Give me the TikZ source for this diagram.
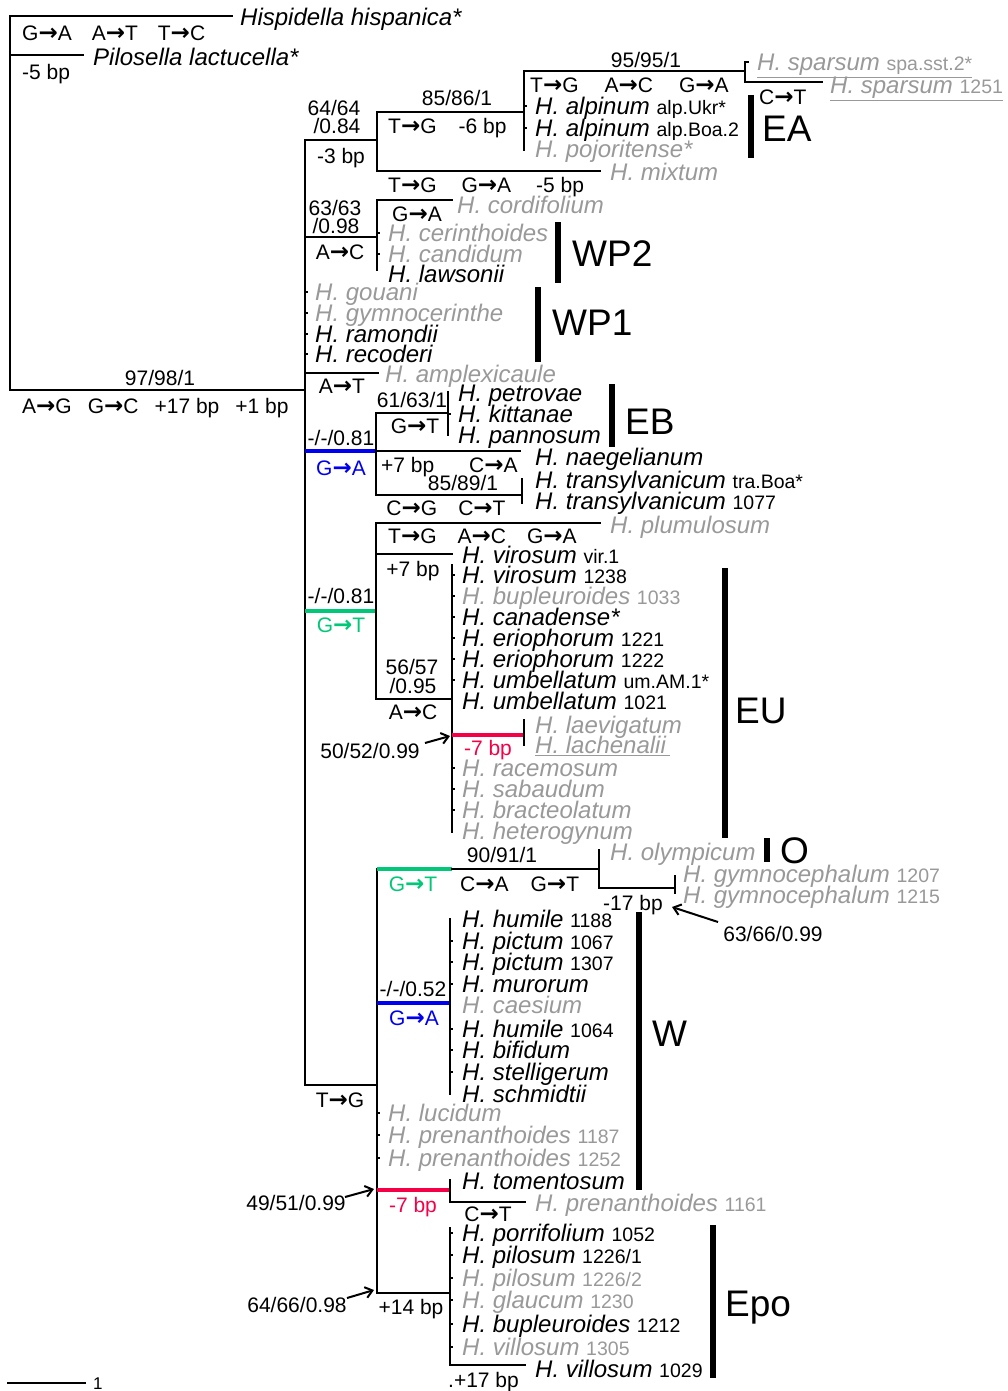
\documentclass[tikz,border=0pt]{standalone}
\usepackage{fontspec}
\setmainfont{Liberation Sans}
\newfontfamily\arfont{DejaVu Sans}
\usetikzlibrary{arrows.meta}
\definecolor{gry}{RGB}{153,153,153}
\definecolor{bl}{RGB}{0,0,240}
\definecolor{gn}{RGB}{0,200,120}
\definecolor{rd}{RGB}{245,0,70}
\newcommand{\sx}[1]{{\upshape\fontsize{19.5}{20}\selectfont #1}}
\newcommand{\ar}{{\arfont\bfseries\fontsize{23}{21}\selectfont →}}
\begin{document}
\begin{tikzpicture}[x=1pt,y=-1pt,
  br/.style={line width=2.4pt,line cap=rect},
  cbr/.style={line width=4pt},
  tick/.style={line width=1.5pt},
  bar/.style={line width=5.5pt},
  sarr/.style={line width=2pt,-{Straight Barb[length=7pt,width=11pt,line width=2pt]}},
  tx/.style={anchor=west,inner sep=0pt,text height=17.2pt,text depth=0pt,font=\fontsize{24}{24}\selectfont\itshape},
  mut/.style={inner sep=0pt,text height=15pt,text depth=0pt,font=\fontsize{21}{21}\selectfont},
  grp/.style={anchor=west,inner sep=0pt,text height=26.5pt,text depth=0pt,font=\fontsize{37}{37}\selectfont}]
\useasboundingbox (0,0) rectangle (1008,1391);
% root
\draw[br] (10,16) -- (10,390);
\draw[br] (10,16) -- (232,16);
\node[tx] (hisp) at (240,17) {Hispidella hispanica*};
\node[mut,anchor=west] (m0) at (22,33) {G\ar A\hspace{20pt}A\ar T\hspace{20pt}T\ar C};
\draw[br] (10,55) -- (83,55);
\node[tx] (pilo) at (93,57) {Pilosella lactucella*};
\node[mut,anchor=west] (m1) at (22,72) {-5 bp};
\draw[br] (10,390) -- (305,390);
\node[mut] (s0) at (160,378) {97/98/1};
\node[mut,anchor=west] (m2) at (22,406) {A\ar G\hspace{16pt}G\ar C\hspace{16pt}+17 bp\hspace{16pt}+1 bp};
\draw[br] (305,140) -- (305,1085);
% clade A
\draw[br] (305,140) -- (377,140);
\node[mut] (s1a) at (334,108) {64/64};
\node[mut] (s1b) at (337,126) {/0.84};
\node[mut] (m3) at (341,156) {-3 bp};
\draw[br] (377,112) -- (377,171);
\draw[br] (377,112) -- (524,112);
\node[mut] (s2) at (457,98) {85/86/1};
\node[mut,anchor=west] (m4) at (388,126) {T\ar G\hspace{22pt}-6 bp};
\draw[br] (524,71) -- (524,150);
\foreach \y in {106,128} \draw[tick] (524,\y) -- ++(3,0);
\draw[br] (524,71) -- (745,71);
\node[mut] (s3) at (646,60) {95/95/1};
\node[mut,anchor=west] (m5) at (530,85) {T\ar G\hspace{26pt}A\ar C\hspace{26pt}G\ar A};
\draw[br] (745,62) -- (745,82);
\draw[br] (745,62) -- (748,62);
\node[tx,gry] (t1) at (757,62) {\underline{H. sparsum \sx{spa.sst.2*}}};
\draw[br] (745,82) -- (822,82);
\node[tx,gry] (t2) at (830,85) {\underline{H. sparsum \sx{1251}}};
\node[mut,anchor=west] (m6) at (759,97) {C\ar T};
\node[tx] (t3) at (535,106) {H. alpinum \sx{alp.Ukr*}};
\node[tx] (t4) at (535,128) {H. alpinum \sx{alp.Boa.2}};
\node[tx,gry] (t5) at (535,149) {H. pojoritense*};
\draw[bar] (751,95) -- (751,158);
\node[grp] (gEA) at (762,128) {EA};
\draw[br] (377,171) -- (600,171);
\node[tx,gry] (t6) at (610,172) {H. mixtum};
\node[mut,anchor=west] (m7) at (388,185) {T\ar G\hspace{25pt}G\ar A\hspace{25pt}-5 bp};
% clade B
\draw[br] (305,237) -- (377,237);
\node[mut] (s4a) at (335,208) {63/63};
\node[mut] (s4b) at (336,226) {/0.98};
\node[mut] (m8) at (340,252) {A\ar C};
\draw[br] (377,200) -- (377,270);
\foreach \y in {233,254} \draw[tick] (377,\y) -- ++(3,0);
\draw[br] (377,200) -- (452,200);
\node[tx,gry] (t7) at (457,205) {H. cordifolium};
\node[mut,anchor=west] (m9) at (392,214) {G\ar A};
\node[tx,gry] (t8) at (388,233) {H. cerinthoides};
\node[tx,gry] (t9) at (388,254) {H. candidum};
\node[tx] (t10) at (388,274) {H. lawsonii};
\draw[bar] (558,222) -- (558,283);
\node[grp] (gWP2) at (572,253) {WP2};
% WP1
\foreach \y in {292,313,334,354} \draw[tick] (305,\y) -- ++(3,0);
\node[tx,gry] (t11) at (315,292) {H. gouani};
\node[tx,gry] (t12) at (315,313) {H. gymnocerinthe};
\node[tx] (t13) at (315,334) {H. ramondii};
\node[tx] (t14) at (315,354) {H. recoderi};
\draw[bar] (538,287) -- (538,362);
\node[grp] (gWP1) at (552,322) {WP1};
\draw[br] (305,373) -- (378,373);
\node[tx,gry] (t15) at (385,374) {H. amplexicaule};
\node[mut] (m10) at (342,386) {A\ar T};
% clade C (blue)
\draw[cbr,bl] (305,451) -- (376,451);
\node[mut] (s5) at (341,438) {-/-/0.81};
\node[mut,bl] (m11) at (341,468) {G\ar A};
\draw[br] (376,413) -- (376,495);
\draw[br] (376,413) -- (448,413);
\node[mut] (s6) at (412,400) {61/63/1};
\node[mut] (m12) at (415,426) {G\ar T};
\draw[br] (448,392) -- (448,435);
\draw[tick] (448,414) -- ++(3,0);
\node[tx] (t16) at (458,393) {H. petrovae};
\node[tx] (t17) at (458,414) {H. kittanae};
\node[tx] (t18) at (458,435) {H. pannosum};
\draw[bar] (612,384) -- (612,447);
\node[grp] (gEB) at (625,421) {EB};
\draw[br] (376,451) -- (520,451);
\node[tx] (t19) at (535,457) {H. naegelianum};
\node[mut,anchor=west] (m13) at (381,465) {+7 bp};
\node[mut,anchor=west] (m14) at (469,465) {C\ar A};
\draw[br] (376,495) -- (522,495);
\node[mut] (s7) at (463,483) {85/89/1};
\node[mut] (m15) at (446,508) {C\ar G\hspace{21pt}C\ar T};
\draw[br] (522,479) -- (522,503);
\node[tx] (t20) at (535,480) {H. transylvanicum \sx{tra.Boa*}};
\node[tx] (t21) at (535,501) {H. transylvanicum \sx{1077}};
% clade D (green)
\draw[cbr,gn] (305,611) -- (376,611);
\node[mut] (s8) at (341,596) {-/-/0.81};
\node[mut,gn] (m16) at (341,625) {G\ar T};
\draw[br] (376,523) -- (376,699);
\draw[br] (376,523) -- (600,523);
\node[tx,gry] (t22) at (610,525) {H. plumulosum};
\node[mut,anchor=west] (m17) at (388,536) {T\ar G\hspace{21pt}A\ar C\hspace{21pt}G\ar A};
\draw[br] (376,554) -- (452,554);
\node[tx] (t23) at (462,555) {H. virosum \sx{vir.1}};
\node[mut] (m18) at (413,569) {+7 bp};
\draw[br] (376,699) -- (452,699);
\node[mut] (s9a) at (412,667) {56/57};
\node[mut] (s9b) at (413,686) {/0.95};
\node[mut] (m19) at (413,712) {A\ar C};
\draw[br] (452,565) -- (452,832);
\foreach \y in {575,596,617,638,659,680,768,789,810} \draw[tick] (452,\y) -- ++(3,0);
\node[tx] (t24) at (462,575) {H. virosum \sx{1238}};
\node[tx,gry] (t25) at (462,596) {H. bupleuroides \sx{1033}};
\node[tx] (t26) at (462,617) {H. canadense*};
\node[tx] (t27) at (462,638) {H. eriophorum \sx{1221}};
\node[tx] (t28) at (462,659) {H. eriophorum \sx{1222}};
\node[tx] (t29) at (462,680) {H. umbellatum \sx{um.AM.1*}};
\node[tx] (t30) at (462,701) {H. umbellatum \sx{1021}};
\draw[cbr,rd] (452,735) -- (523,735);
\node[mut,rd] (m20) at (488,748) {-7 bp};
\draw[br] (524,720) -- (524,745);
\node[tx,gry] (t31) at (535,725) {H. laevigatum};
\node[tx,gry] (t32) at (535,745) {\underline{H. lachenalii\,}};
\node[mut] (s10) at (370,751) {50/52/0.99};
\coordinate (a1s) at (425,743);
\coordinate (a1e) at (450,736);
\draw[sarr] (a1s) -- (a1e);
\node[tx,gry] (t33) at (462,768) {H. racemosum};
\node[tx,gry] (t34) at (462,789) {H. sabaudum};
\node[tx,gry] (t35) at (462,810) {H. bracteolatum};
\node[tx,gry] (t36) at (462,831) {H. heterogynum};
\draw[bar] (725,568) -- (725,838);
\node[grp] (gEU) at (735,710) {EU};
% IO
\draw[br] (377,869) -- (377,1293);
\draw[cbr,gn] (377,869) -- (452,869);
\draw[br] (452,869) -- (599,869);
\node[mut] (s11) at (502,855) {90/91/1};
\node[mut,gn] (m21) at (413,884) {G\ar T};
\node[mut,anchor=west] (m22) at (460,884) {C\ar A\hspace{22pt}G\ar T};
\draw[br] (599,850) -- (599,888);
\node[tx,gry] (t37) at (610,852) {H. olympicum};
\draw[br] (599,888) -- (675,888);
\node[mut] (m23) at (633,903) {-17 bp};
\draw[br] (675,876) -- (675,893);
\node[tx,gry] (t38) at (683,874) {H. gymnocephalum \sx{1207}};
\node[tx,gry] (t39) at (683,895) {H. gymnocephalum \sx{1215}};
\node[mut] (s12) at (773,934) {63/66/0.99};
\coordinate (a2s) at (718,922);
\coordinate (a2e) at (672,907);
\draw[sarr] (a2s) -- (a2e);
\draw[bar] (767,838) -- (767,862);
\node[grp] (gO) at (780,850) {O};
% W
\draw[br] (305,1085) -- (377,1085);
\node[mut] (m24) at (340,1100) {T\ar G};
\draw[cbr,bl] (377,1003) -- (450,1003);
\node[mut] (s13) at (413,989) {-/-/0.52};
\node[mut,bl] (m25) at (414,1018) {G\ar A};
\draw[br] (450,919) -- (450,1094);
\foreach \y in {941,962,984,1029,1050,1072} \draw[tick] (450,\y) -- ++(3,0);
\node[tx] (t40) at (462,919) {H. humile \sx{1188}};
\node[tx] (t41) at (462,941) {H. pictum \sx{1067}};
\node[tx] (t42) at (462,962) {H. pictum \sx{1307}};
\node[tx] (t43) at (462,984) {H. murorum};
\node[tx,gry] (t44) at (462,1005) {H. caesium};
\node[tx] (t45) at (462,1029) {H. humile \sx{1064}};
\node[tx] (t46) at (462,1050) {H. bifidum};
\node[tx] (t47) at (462,1072) {H. stelligerum};
\node[tx] (t48) at (462,1094) {H. schmidtii};
\foreach \y in {1113,1135,1158} \draw[tick] (377,\y) -- ++(3,0);
\node[tx,gry] (t49) at (388,1113) {H. lucidum};
\node[tx,gry] (t50) at (388,1135) {H. prenanthoides \sx{1187}};
\node[tx,gry] (t51) at (388,1158) {H. prenanthoides \sx{1252}};
\draw[cbr,rd] (377,1190) -- (450,1190);
\node[mut,rd] (m26) at (413,1205) {-7 bp};
\node[mut] (s14) at (296,1203) {49/51/0.99};
\coordinate (a3s) at (345,1197);
\coordinate (a3e) at (374,1189);
\draw[sarr] (a3s) -- (a3e);
\draw[br] (450,1180) -- (450,1202);
\node[tx] (t52) at (462,1181) {H. tomentosum};
\draw[br] (450,1202) -- (525,1202);
\node[tx,gry] (t53) at (535,1203) {H. prenanthoides \sx{1161}};
\node[mut] (m27) at (488,1214) {C\ar T};
\draw[bar] (639,912) -- (639,1190);
\node[grp] (gW) at (652,1033) {W};
% Epo
\draw[br] (377,1293) -- (450,1293);
\node[mut] (m28) at (411,1307) {+14 bp};
\node[mut] (s15) at (297,1305) {64/66/0.98};
\coordinate (a4s) at (347,1298);
\coordinate (a4e) at (374,1290);
\draw[sarr] (a4s) -- (a4e);
\draw[br] (450,1228) -- (450,1365);
\foreach \y in {1233,1255,1278,1300,1324,1347} \draw[tick] (450,\y) -- ++(3,0);
\node[tx] (t54) at (462,1233) {H. porrifolium \sx{1052}};
\node[tx] (t55) at (462,1255) {H. pilosum \sx{1226/1}};
\node[tx,gry] (t56) at (462,1278) {H. pilosum \sx{1226/2}};
\node[tx,gry] (t57) at (462,1300) {H. glaucum \sx{1230}};
\node[tx] (t58) at (462,1324) {H. bupleuroides \sx{1212}};
\node[tx,gry] (t59) at (462,1347) {H. villosum \sx{1305}};
\draw[br] (450,1365) -- (525,1365);
\node[tx] (t60) at (535,1369) {H. villosum \sx{1029}};
\node[mut,anchor=west] (m29) at (448,1380) {.+17 bp};
\draw[bar] (713,1225) -- (713,1378);
\node[grp] (gEpo) at (725,1303) {Epo};
% scale bar
\draw[br] (8,1383) -- (85,1383);
\node[anchor=west,inner sep=0pt,text height=12pt,text depth=0pt,font=\fontsize{17}{17}\selectfont] (sc) at (93,1383) {1};
\end{tikzpicture}
\end{document}
